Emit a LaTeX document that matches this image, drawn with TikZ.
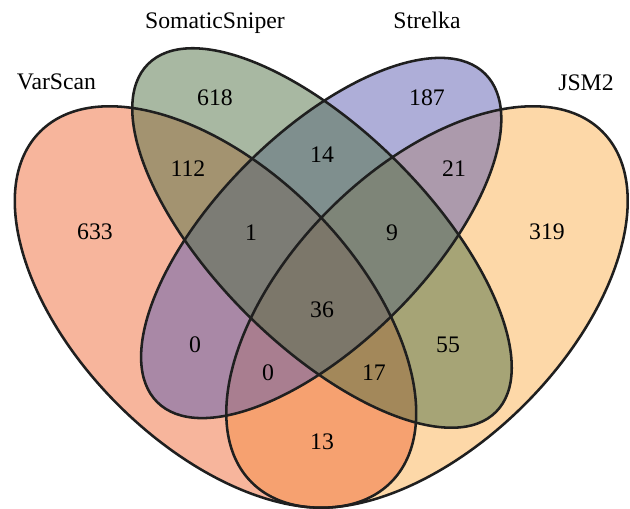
\documentclass[tikz,border=0pt]{standalone}
\usepackage{fontspec}
\setmainfont{Liberation Serif}
\usetikzlibrary{positioning}
\definecolor{varscan}{RGB}{239,107,57}
\definecolor{sniper}{RGB}{81,113,69}
\definecolor{strelka}{RGB}{93,93,177}
\definecolor{jsm}{RGB}{251,177,81}
\tikzstyle{setfill} = [fill opacity=0.5]
\tikzstyle{setline} = [draw=black!88, line width=1.45pt]
\tikzstyle{count} = [inner sep=0pt, font=\fontsize{13.5}{16}\selectfont]
\tikzstyle{setname} = [inner sep=0pt, anchor=base, font=\fontsize{13.5}{16}\selectfont]

\begin{document}
\begin{tikzpicture}[x=0.02cm, y=-0.02cm]
	\useasboundingbox (0,0) rectangle (630,509);
	% centres of the four sets
	\coordinate (cV) at (215.5,307);
	\coordinate (cJ) at (427,307);
	\coordinate (cS) at (322,238);
	\coordinate (cT) at (321.2,238);

	% fills
	\fill[jsm, setfill, rotate around={45:(cJ)}] (cJ) ellipse [x radius=248, y radius=138];
	\fill[varscan, setfill, rotate around={-45:(cV)}] (cV) ellipse [x radius=248, y radius=138];
	\fill[strelka, setfill, rotate around={45:(cT)}] (cT) ellipse [x radius=232, y radius=105];
	\fill[sniper, setfill, rotate around={-45:(cS)}] (cS) ellipse [x radius=246, y radius=107];

	% outlines
	\draw[setline, rotate around={45:(cJ)}] (cJ) ellipse [x radius=248, y radius=138];
	\draw[setline, rotate around={-45:(cV)}] (cV) ellipse [x radius=248, y radius=138];
	\draw[setline, rotate around={45:(cT)}] (cT) ellipse [x radius=232, y radius=105];
	\draw[setline, rotate around={-45:(cS)}] (cS) ellipse [x radius=246, y radius=107];

	% set names
	\node[setname] (varscan) at (56.5,90) {VarScan};
	\node[setname] (sniper) at (215,29) {SomaticSniper};
	\node[setname] (strelka) at (427,29) {Strelka};
	\node[setname] (jsm) at (586,90.5) {JSM2};

	% counts
	\node[count] (n633) at (95,232) {633};
	\node[count] (n618) at (215,98) {618};
	\node[count] (n187) at (427,98) {187};
	\node[count] (n319) at (547,232) {319};
	\node[count] (n112) at (188,169) {112};
	\node[count] (n14) at (322,155) {14};
	\node[count] (n21) at (454,169) {21};
	\node[count] (n1) at (251,233) {1};
	\node[count] (n9) at (392,233) {9};
	\node[count] (n36) at (322,310) {36};
	\node[count] (n0a) at (195,345) {0};
	\node[count] (n55) at (448,345) {55};
	\node[count] (n0b) at (268,373) {0};
	\node[count] (n17) at (374,373) {17};
	\node[count] (n13) at (322,442) {13};
\end{tikzpicture}
\end{document}
